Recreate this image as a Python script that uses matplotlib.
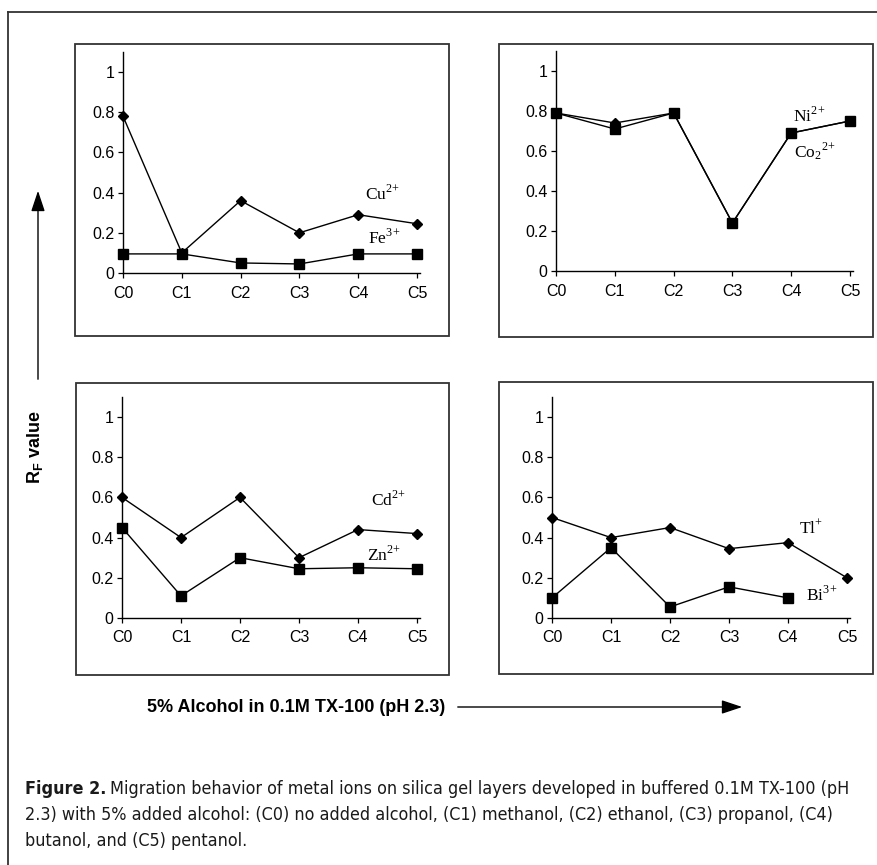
import matplotlib
matplotlib.use('Agg')
import matplotlib.pyplot as plt
from matplotlib.patches import Rectangle, FancyArrowPatch
from matplotlib.lines import Line2D

W, H = 878, 865

categories = ['C0', 'C1', 'C2', 'C3', 'C4', 'C5']
y_ticks = [0, 0.2, 0.4, 0.6, 0.8, 1]
y_ticklabels = ['0', '0.2', '0.4', '0.6', '0.8', '1']

# top-left panel
cu = [0.78, 0.10, 0.36, 0.20, 0.29, 0.245]
fe = [0.095, 0.095, 0.05, 0.045, 0.095, 0.095]
# top-right panel
ni = [0.79, 0.74, 0.79, 0.24, 0.69, 0.75]
co = [0.79, 0.71, 0.79, 0.24, 0.69, 0.75]
# bottom-left panel
cd = [0.60, 0.40, 0.60, 0.30, 0.44, 0.42]
zn = [0.45, 0.11, 0.30, 0.245, 0.25, 0.245]
# bottom-right panel
tl = [0.50, 0.40, 0.45, 0.345, 0.375, 0.20]
bi = [0.10, 0.35, 0.055, 0.155, 0.10]

caption_lines = [
    "Migration behavior of metal ions on silica gel layers developed in buffered 0.1M TX-100 (pH",
    "2.3) with 5% added alcohol: (C0) no added alcohol, (C1) methanol, (C2) ethanol, (C3) propanol, (C4)",
    "butanol, and (C5) pentanol.",
]

plt.rcParams['font.family'] = ['Liberation Sans', 'DejaVu Sans']
plt.rcParams['mathtext.fontset'] = 'custom'
plt.rcParams['mathtext.rm'] = 'Liberation Serif'
plt.rcParams['mathtext.bf'] = 'Liberation Sans:bold'

fig = plt.figure(figsize=(W / 100, H / 100), dpi=100)


def fx(x):
    return x / W


def fy(y):
    return 1 - y / H


def frame(x0, y0, x1, y1):
    fig.patches.append(Rectangle((fx(x0), fy(y1)), fx(x1) - fx(x0), fy(y0) - fy(y1),
                                 transform=fig.transFigure, fill=False,
                                 edgecolor='#333333', linewidth=1.3))


def panel(x0, x5, y0, y1, series, labels):
    # x0/x5: pixel of C0/C5, y0/y1: pixel of 0 and 1
    step = (x5 - x0) / 5
    unit = (y0 - y1)
    left, right = x0, x0 + 5.05 * step
    bottom, top = y0, y0 - 1.1 * unit
    ax = fig.add_axes([fx(left), fy(bottom), fx(right) - fx(left), fy(top) - fy(bottom)])
    for vals, mk, ms in series:
        ax.plot(range(len(vals)), vals, color='black', linewidth=1.0, clip_on=False,
                marker=mk, markersize=ms, markerfacecolor='black', markeredgecolor='black')
    for txt, x, y in labels:
        ax.text(x, y, txt, fontsize=12.5, va='center', ha='left')
    ax.set_xlim(0, 5.05)
    ax.set_ylim(0, 1.1)
    ax.set_xticks(range(6))
    ax.set_xticklabels(categories)
    ax.set_yticks(y_ticks)
    ax.set_yticklabels(y_ticklabels)
    ax.spines['top'].set_visible(False)
    ax.spines['right'].set_visible(False)
    for s in ('left', 'bottom'):
        ax.spines[s].set_linewidth(1.0)
    ax.tick_params(axis='both', direction='out', length=3.5, width=0.9, labelsize=11.5)
    ax.tick_params(axis='y', pad=2.5)
    ax.tick_params(axis='x', pad=5.5)
    ax.patch.set_alpha(0)
    return ax


# outer frame (left and top edges)
fig.add_artist(Line2D([fx(8), fx(8)], [fy(12), fy(H + 5)], transform=fig.transFigure,
                      color='#333333', linewidth=1.3))
fig.add_artist(Line2D([fx(8), fx(W + 5)], [fy(12), fy(12)], transform=fig.transFigure,
                      color='#333333', linewidth=1.3))

# panel boxes
frame(75, 44, 449, 336)
frame(499, 44, 873, 337)
frame(76, 383, 449, 675)
frame(499, 382, 873, 674)

panel(123, 417, 273, 72,
      [(cu, 'D', 5), (fe, 's', 7)],
      [(r'$\mathrm{Cu}^{2\!+}$', 4.12, 0.40), (r'$\mathrm{Fe}^{3\!+}$', 4.17, 0.18)])
panel(556, 850, 271, 71,
      [(ni, 'D', 5), (co, 's', 7)],
      [(r'$\mathrm{Ni}^{2\!+}$', 4.03, 0.78), (r'$\mathrm{Co_2}^{2\!+}$', 4.04, 0.60)])
panel(122, 417, 618, 417,
      [(cd, 'D', 5), (zn, 's', 7)],
      [(r'$\mathrm{Cd}^{2\!+}$', 4.22, 0.59), (r'$\mathrm{Zn}^{2\!+}$', 4.16, 0.32)])
panel(552, 847, 618, 417,
      [(tl, 'D', 5), (bi, 's', 7)],
      [(r'$\mathrm{Tl}^{+}$', 4.18, 0.45), (r'$\mathrm{Bi}^{3\!+}$', 4.3, 0.12)])

# y axis label with arrow
fig.text(fx(35), fy(447), r'$\mathbf{R_F}$ value', rotation=90, fontsize=13,
         fontweight='bold', ha='center', va='center')
fig.add_artist(FancyArrowPatch(
    (fx(38), fy(382)), (fx(38), fy(188)), transform=fig.transFigure,
    arrowstyle='-|>,head_length=0.9,head_width=0.3', mutation_scale=14,
    color='black', linewidth=1.0))

# x axis label with arrow
fig.text(fx(296), fy(707), '5% Alcohol in 0.1M TX-100 (pH 2.3)', fontsize=13,
         fontweight='bold', ha='center', va='center')
fig.add_artist(FancyArrowPatch(
    (fx(455), fy(707)), (fx(745), fy(707)), transform=fig.transFigure,
    arrowstyle='-|>,head_length=0.9,head_width=0.3', mutation_scale=14,
    color='black', linewidth=1.0))

# caption, condensed face scaled so line 1 spans the same width as the reference
renderer = fig.canvas.get_renderer()
cap_kw = dict(family='DejaVu Sans', fontstretch='condensed', va='center', ha='left',
              color='#1a1a1a')
size = 12.0
head = fig.text(fx(25), fy(789), 'Figure 2.', fontsize=size, fontweight='bold', **cap_kw)
first = fig.text(0, fy(789), caption_lines[0], fontsize=size, **cap_kw)
hw = head.get_window_extent(renderer).width
fw = first.get_window_extent(renderer).width
size = size * (851 - 25) / (hw + 5 + fw)
head.set_fontsize(size)
first.set_fontsize(size)
hw = head.get_window_extent(renderer).width
first.set_x(fx(25) + (hw + 4) / W)
fig.text(fx(25), fy(815), caption_lines[1], fontsize=size, **cap_kw)
fig.text(fx(25), fy(841), caption_lines[2], fontsize=size, **cap_kw)

fig.savefig('out.png', dpi=100, facecolor='white')
